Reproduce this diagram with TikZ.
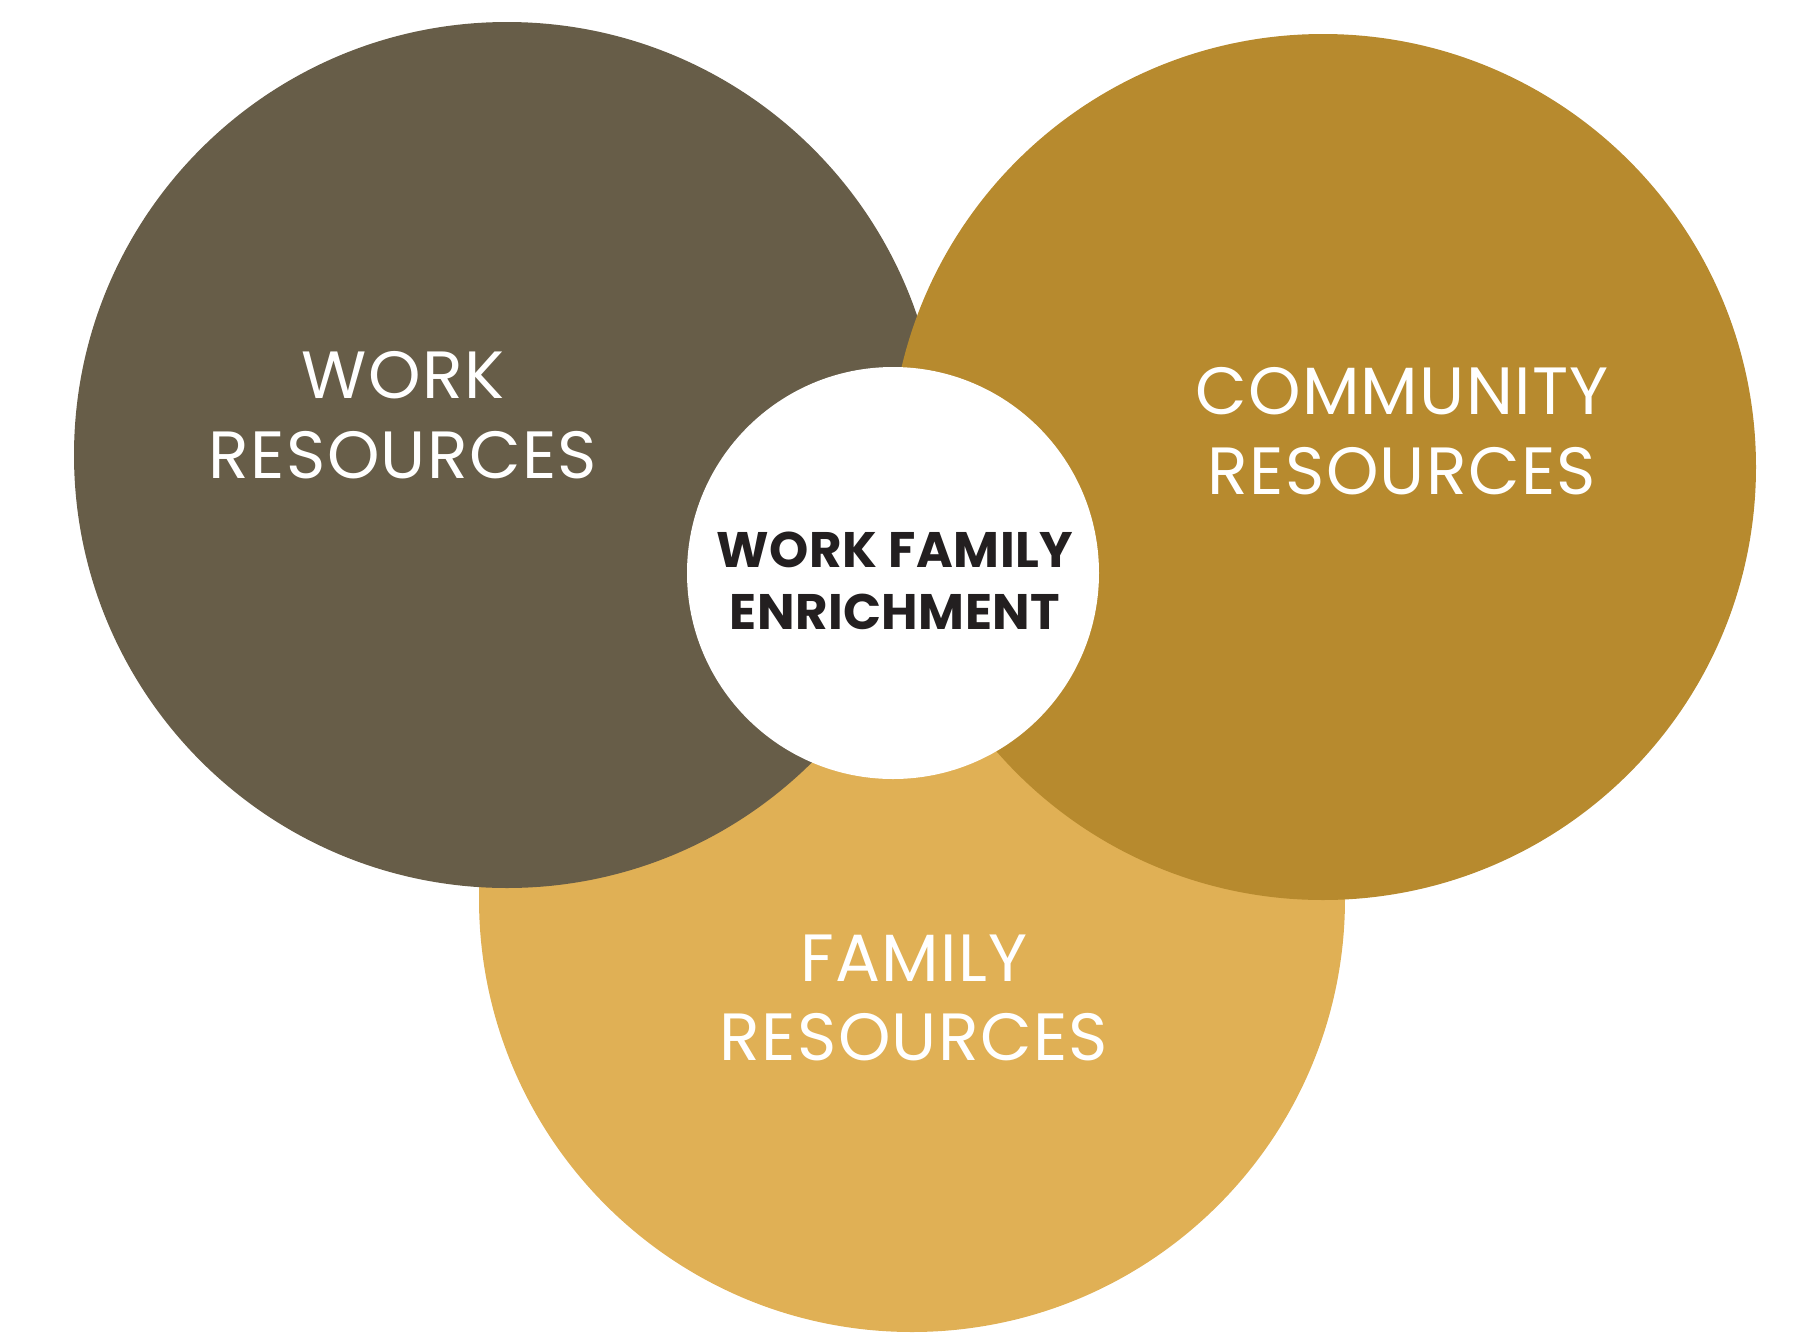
\documentclass[tikz,border=0pt]{standalone}
\usepackage{fontspec}
\setmainfont{Poppins}[LetterSpace=2]
\newfontfamily\centrefont{Poppins}[LetterSpace=1]
\usepackage{xcolor}
\usepackage{tikz}
\usetikzlibrary{positioning}

\definecolor{workbrown}{HTML}{675D48}
\definecolor{commgold}{HTML}{B78A2E}
\definecolor{famgold}{HTML}{E0B055}
\definecolor{inkdark}{HTML}{231F20}

\tikzset{
  area/.style={text=white, align=center, font=\fontsize{19}{22.7}\selectfont},
  core/.style={text=inkdark, align=center, font=\centrefont\bfseries\fontsize{14.2}{17.6}\selectfont}
}

\begin{document}
\begin{tikzpicture}[x=0.01cm, y=-0.01cm]
\useasboundingbox (0,0) rectangle (1796,1336);

% Circles, back to front
\fill[famgold] (912,899) circle (433);
\fill[workbrown] (507,455) circle (433);
\fill[commgold] (1323,467) circle (433);
\fill[white] (893,573) circle (206);

% Labels
\node[area] (work) at (403,415) {WORK\\RESOURCES};
\node[area] (community) at (1402,431) {COMMUNITY\\RESOURCES};
\node[area] (family) at (914,998) {FAMILY\\RESOURCES};
\node[core] (wfe) at (895,581) {WORK FAMILY\\ENRICHMENT};

\end{tikzpicture}
\end{document}
